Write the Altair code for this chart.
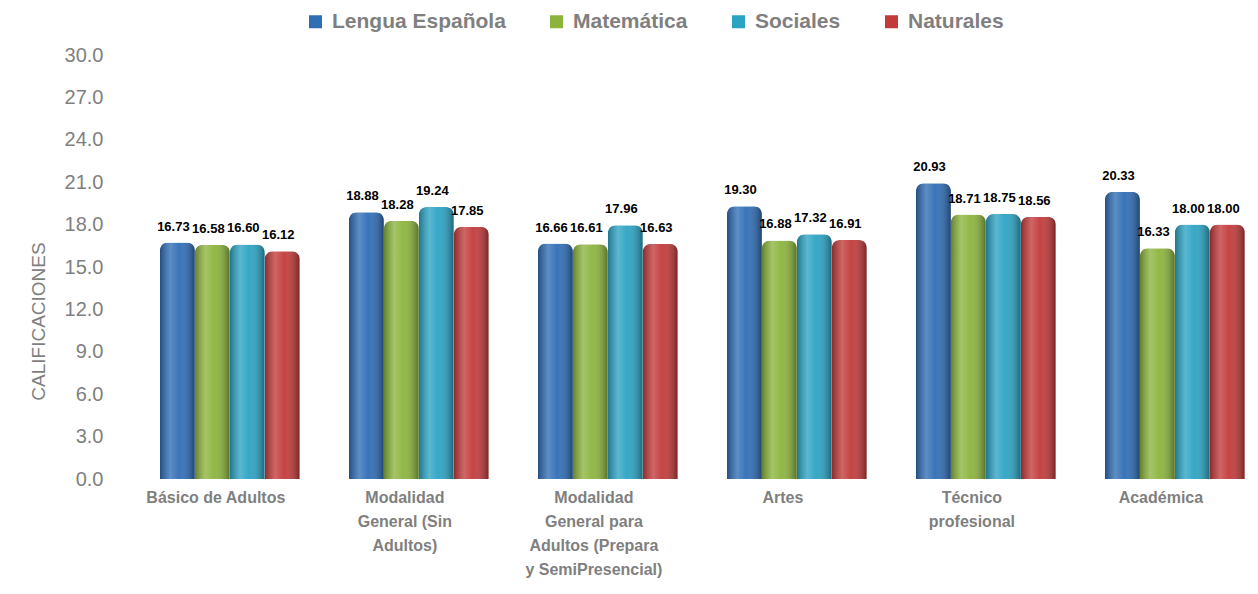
import altair as alt
import pandas as pd

categories = [
    "Básico de Adultos",
    "Modalidad General (Sin Adultos)",
    "Modalidad General para Adultos (Prepara y SemiPresencial)",
    "Artes",
    "Técnico profesional",
    "Académica",
]
label_lines = {
    "Básico de Adultos": ["Básico de Adultos"],
    "Modalidad General (Sin Adultos)": ["Modalidad", "General (Sin", "Adultos)"],
    "Modalidad General para Adultos (Prepara y SemiPresencial)": ["Modalidad", "General para", "Adultos (Prepara", "y SemiPresencial)"],
    "Artes": ["Artes"],
    "Técnico profesional": ["Técnico", "profesional"],
    "Académica": ["Académica"],
}
series = ["Lengua Española", "Matemática", "Sociales", "Naturales"]
lengua = [16.73, 18.88, 16.66, 19.30, 20.93, 20.33]
matematica = [16.58, 18.28, 16.61, 16.88, 18.71, 16.33]
sociales = [16.60, 19.24, 17.96, 17.32, 18.75, 18.00]
naturales = [16.12, 17.85, 16.63, 16.91, 18.56, 18.00]
colors = ["#2f6db5", "#8cb43c", "#2ba3c3", "#c23a3a"]

rows = []
for s, vals in zip(series, [lengua, matematica, sociales, naturales]):
    for c, v in zip(categories, vals):
        rows.append({"cat": c, "serie": s, "valor": v})
df = pd.DataFrame(rows)

label_expr = "{" + ", ".join(
    f"{c!r}: {label_lines[c]!r}" for c in categories
) + "}[datum.label]"

FONT = "Liberation Sans"
GRAY = "#7f7f7f"

x_enc = alt.X(
    "cat:N", sort=categories, title=None,
    scale=alt.Scale(paddingInner=0.26, paddingOuter=0.114, align=0.88),
    axis=alt.Axis(labelAngle=0, labelExpr=label_expr, labelFont=FONT, labelFontSize=16,
                  labelFontWeight="bold", labelColor=GRAY, labelLineHeight=24,
                  labelPadding=10, labelOffset=-14, ticks=False, domain=False,
                  grid=False, labelBaseline="top", labelLimit=300),
)
xoff = alt.XOffset("serie:N", sort=series, scale=alt.Scale(paddingInner=0.0))
y_enc = alt.Y(
    "valor:Q", title="CALIFICACIONES",
    scale=alt.Scale(domain=[0, 30], nice=False),
    axis=alt.Axis(values=[0, 3, 6, 9, 12, 15, 18, 21, 24, 27, 30], format=".1f",
                  labelFont=FONT, labelFontSize=20, labelColor=GRAY, ticks=False,
                  domain=False, grid=False, labelPadding=19,
                  titleFont=FONT, titleFontSize=19, titleFontWeight="normal",
                  titleColor=GRAY, titlePadding=16, titleY=266),
)

bars = alt.Chart(df).mark_bar(cornerRadiusTopLeft=8, cornerRadiusTopRight=8).encode(
    x=x_enc, xOffset=xoff, y=y_enc,
    color=alt.Color("serie:N", sort=series,
                    scale=alt.Scale(domain=series, range=colors),
                    legend=alt.Legend(title=None, orient="none", direction="horizontal",
                                      legendX=183, legendY=-44, symbolType="square",
                                      symbolSize=169, labelFont=FONT, labelFontSize=21,
                                      labelFontWeight="bold", labelColor=GRAY,
                                      labelLimit=400, columnPadding=40,
                                      symbolOpacity=1, labelOffset=6,
                                      symbolStrokeWidth=0)),
)

shade = alt.Chart(df).mark_bar(
    cornerRadiusTopLeft=8, cornerRadiusTopRight=8,
    color=alt.Gradient(
        gradient="linear", x1=0, x2=1, y1=0, y2=0,
        stops=[
            alt.GradientStop(offset=0, color="rgba(0,0,0,0.28)"),
            alt.GradientStop(offset=0.3, color="rgba(255,255,255,0.22)"),
            alt.GradientStop(offset=0.55, color="rgba(255,255,255,0.05)"),
            alt.GradientStop(offset=1, color="rgba(0,0,0,0.38)"),
        ],
    ),
).encode(x=x_enc, xOffset=xoff, y=y_enc)

labels = alt.Chart(df).mark_text(
    dy=-9, dx=-4, font=FONT, fontSize=13, fontWeight="bold", color="#000000",
    baseline="bottom"
).encode(x=x_enc, xOffset=xoff, y=y_enc, text=alt.Text("valor:Q", format=".2f"))

chart = alt.layer(bars, shade, labels).properties(
    width=1128, height=424,
    background="white",
    autosize=alt.AutoSizeParams(type="none"),
    padding={"left": 114, "top": 47, "right": 0, "bottom": 99},
).configure_view(strokeWidth=0, stroke="transparent")

chart.save("out.html", embed_options={"renderer": "svg", "actions": False})
